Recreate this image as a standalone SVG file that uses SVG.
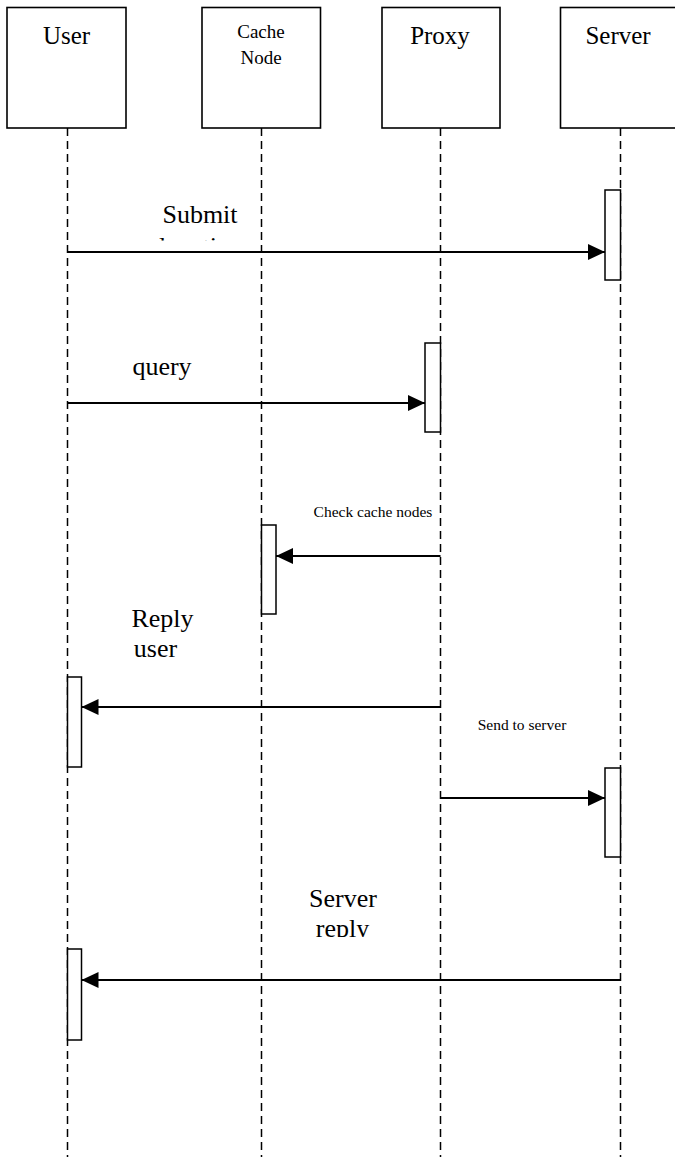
<svg xmlns="http://www.w3.org/2000/svg" width="675" height="1157" viewBox="0 0 675 1157">
  <style>
    .box { fill: #fff; stroke: #000; stroke-width: 1.6; }
    .bar { fill: #fff; stroke: #000; stroke-width: 1.5; }
    .life { stroke: #000; stroke-width: 1.5; stroke-dasharray: 8 5; fill: none; }
    .msg { stroke: #000; stroke-width: 2; fill: none; marker-end: url(#head); }
    .t { font-family: "Liberation Serif", "Times New Roman", serif; fill: #000; text-anchor: middle; }
    .big { font-size: 25px; }
    .mid { font-size: 19px; }
    .lbl { font-size: 26px; }
    .sm { font-size: 15.5px; }
  </style>
  <defs>
    <marker id="head" markerUnits="userSpaceOnUse" markerWidth="18" markerHeight="16" refX="17" refY="8" orient="auto">
      <path d="M0,0 L17,8 L0,16 Z" fill="#000"/>
    </marker>
    <clipPath id="clipSubmit"><rect x="100" y="190" width="200" height="50.5"/></clipPath>
    <clipPath id="clipReply"><rect x="280" y="870" width="150" height="67"/></clipPath>
  </defs>

  <rect width="675" height="1157" fill="#fff"/>

  <!-- lifelines -->
  <g id="lifelines">
    <line class="life" x1="67.5" y1="128" x2="67.5" y2="1157"/>
    <line class="life" x1="261.5" y1="128" x2="261.5" y2="1157"/>
    <line class="life" x1="440.5" y1="128" x2="440.5" y2="1157"/>
    <line class="life" x1="620.5" y1="128" x2="620.5" y2="1157"/>
  </g>

  <!-- participants -->
  <g id="user">
    <rect class="box" x="7" y="7.5" width="119" height="120.5"/>
    <text class="t big" x="66.5" y="44">User</text>
  </g>
  <g id="cache-node">
    <rect class="box" x="202" y="7.5" width="118.5" height="120.5"/>
    <text class="t mid" x="261" y="38">Cache</text>
    <text class="t mid" x="261" y="64">Node</text>
  </g>
  <g id="proxy">
    <rect class="box" x="382" y="7.5" width="118" height="120.5"/>
    <text class="t big" x="440" y="44">Proxy</text>
  </g>
  <g id="server">
    <rect class="box" x="560.5" y="7.5" width="120" height="120.5"/>
    <text class="t big" x="618" y="44">Server</text>
  </g>

  <!-- activation bars -->
  <g id="activations">
    <rect class="bar" x="605" y="190" width="15.5" height="90"/>
    <rect class="bar" x="425" y="343" width="15.5" height="89"/>
    <rect class="bar" x="261.5" y="525" width="14.5" height="89"/>
    <rect class="bar" x="67.5" y="677" width="14" height="90"/>
    <rect class="bar" x="605" y="768" width="15.5" height="89"/>
    <rect class="bar" x="67.5" y="949" width="14" height="91"/>
  </g>

  <!-- messages -->
  <g id="connectors">
    <line class="msg" x1="67.5" y1="252" x2="605" y2="252"/>
    <line class="msg" x1="67.5" y1="403" x2="425" y2="403"/>
    <line class="msg" x1="440.5" y1="556" x2="276" y2="556"/>
    <line class="msg" x1="440.5" y1="707" x2="81.5" y2="707"/>
    <line class="msg" x1="440.5" y1="798" x2="605" y2="798"/>
    <line class="msg" x1="620.5" y1="980" x2="81.5" y2="980"/>
  </g>

  <!-- message labels -->
  <g id="labels">
    <text class="t lbl" x="200" y="223">Submit</text>
    <text class="t lbl" x="201" y="255" clip-path="url(#clipSubmit)">location</text>
    <text class="t lbl" x="162" y="375">query</text>
    <text class="t sm" x="373" y="517">Check cache nodes</text>
    <text class="t lbl" x="162.5" y="627">Reply</text>
    <text class="t lbl" x="155.5" y="657">user</text>
    <text class="t sm" x="522" y="730">Send to server</text>
    <text class="t lbl" x="343" y="907">Server</text>
    <text class="t lbl" x="342.5" y="937" clip-path="url(#clipReply)">reply</text>
  </g>
</svg>
